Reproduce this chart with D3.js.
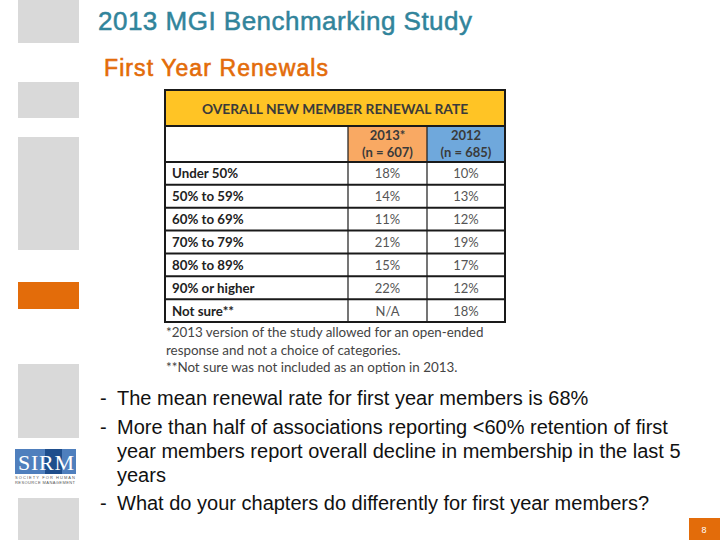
<!DOCTYPE html>
<html>
<head>
<meta charset="utf-8">
<script src="https://cdn.jsdelivr.net/npm/d3@7"></script>
<style>
  body { margin: 0; background: #fff; }
  svg { display: block; }
</style>
</head>
<body>
<div id="chart"></div>
<script>
const w = 720;
const h = 540;

// table data
const categories = ["Under 50%", "50% to 59%", "60% to 69%", "70% to 79%", "80% to 89%", "90% or higher", "Not sure**"];
const values2013 = ["18%", "14%", "11%", "21%", "15%", "22%", "N/A"];
const values2012 = ["10%", "13%", "12%", "19%", "17%", "12%", "18%"];
const columns = ["2013*", "2012"];
const columnN = ["(n = 607)", "(n = 685)"];

const footnotes = [
  "*2013 version of the study allowed for an open-ended",
  "response and not a choice of categories.",
  "**Not sure was not included as an option in 2013."
];
const bullets = [
  ["The mean renewal rate for first year members is 68%"],
  ["More than half of associations reporting <60% retention of first", "year members report overall decline in membership  in the last 5", "years"],
  ["What do your chapters do differently for first year members?"]
];

const svg = d3.select("#chart")
  .append('svg')
  .attr('width', w)
  .attr('height', h);

// left side decoration blocks
const blocks = [
  {y: 0, h: 43, c: '#d9d9d9'},
  {y: 82, h: 36, c: '#d9d9d9'},
  {y: 137, h: 113, c: '#d9d9d9'},
  {y: 282, h: 27, c: '#e36c0a'},
  {y: 364, h: 74, c: '#d9d9d9'},
  {y: 498, h: 42, c: '#d9d9d9'}
];
svg.selectAll('rect.block')
  .data(blocks)
  .enter()
  .append('rect')
  .attr('class', 'block')
  .attr('x', 18)
  .attr('y', d => d.y)
  .attr('width', 61)
  .attr('height', d => d.h)
  .attr('fill', d => d.c);

// SIRM logo
const logo = svg.append('g').attr('transform', 'translate(15,449)');
logo.append('rect').attr('width', 61).attr('height', 25).attr('fill', '#4f7fbd');
logo.append('rect').attr('x', 30).attr('width', 17).attr('height', 25).attr('fill', '#1f4e8c');
logo.append('text')
  .attr('x', 31).attr('y', 21)
  .attr('text-anchor', 'middle')
  .attr('font-family', 'Liberation Serif, serif')
  .attr('font-size', 22)
  .attr('fill', '#fff')
  .attr('textLength', 56)
  .text('SIRM');
logo.append('text').attr('x', 0).attr('y', 30).attr('font-size', 4).attr('fill', '#555')
  .attr('font-family', 'Liberation Sans, sans-serif').attr('textLength', 60).text('SOCIETY FOR HUMAN');
logo.append('text').attr('x', 0).attr('y', 35).attr('font-size', 4).attr('fill', '#555')
  .attr('font-family', 'Liberation Sans, sans-serif').attr('textLength', 60).text('RESOURCE MANAGEMENT');

// titles
svg.append('text')
  .attr('x', 98).attr('y', 30)
  .attr('font-family', 'Liberation Sans, Arial, sans-serif')
  .attr('font-size', 26)
  .attr('fill', '#31849b')
  .attr('stroke', '#31849b').attr('stroke-width', 0.5)
  .attr('textLength', 374)
  .text('2013 MGI Benchmarking Study');
svg.append('text')
  .attr('x', 104).attr('y', 76)
  .attr('font-family', 'Liberation Sans, Arial, sans-serif')
  .attr('font-size', 23)
  .attr('fill', '#e36c0a')
  .attr('stroke', '#e36c0a').attr('stroke-width', 0.6)
  .attr('textLength', 224)
  .text('First Year Renewals');

// table
const tX0 = 165, tX1 = 505;
const colX = d3.scaleOrdinal().domain(['label', '2013*', '2012']).range([165, 348, 427]);
const colW = d3.scaleOrdinal().domain(['label', '2013*', '2012']).range([183, 79, 78]);
const yRow = d3.scaleBand().domain(categories).range([162, 322]);
const headerY = 126, titleY = 90;
const font = 'Lato, "Open Sans", sans-serif';

const table = svg.append('g');

table.append('rect')
  .attr('x', tX0).attr('y', titleY)
  .attr('width', tX1 - tX0).attr('height', headerY - titleY)
  .attr('fill', '#ffc425');
table.append('text')
  .attr('x', (tX0 + tX1) / 2).attr('y', titleY + 24)
  .attr('text-anchor', 'middle')
  .attr('font-family', font).attr('font-weight', 'bold')
  .attr('font-size', 13.8).attr('fill', '#3a3a3a')
  .text('OVERALL NEW MEMBER RENEWAL RATE');

const headColors = ['#f9a963', '#6fa8dc'];
table.selectAll('rect.head')
  .data(columns)
  .enter()
  .append('rect')
  .attr('class', 'head')
  .attr('x', d => colX(d)).attr('y', headerY)
  .attr('width', d => colW(d)).attr('height', 162 - headerY)
  .attr('fill', (d, i) => headColors[i]);
table.selectAll('text.head1')
  .data(columns)
  .enter()
  .append('text')
  .attr('x', d => colX(d) + colW(d) / 2).attr('y', headerY + 14)
  .attr('text-anchor', 'middle')
  .attr('font-family', font).attr('font-weight', 'bold')
  .attr('font-size', 13).attr('fill', '#3a3a3a')
  .text(d => d);
table.selectAll('text.head2')
  .data(columnN)
  .enter()
  .append('text')
  .attr('x', (d, i) => colX(columns[i]) + colW(columns[i]) / 2).attr('y', headerY + 31)
  .attr('text-anchor', 'middle')
  .attr('font-family', font).attr('font-weight', 'bold')
  .attr('font-size', 13).attr('fill', '#3a3a3a')
  .text(d => d);

const rows = table.selectAll('g.row')
  .data(categories)
  .enter()
  .append('g')
  .attr('class', 'row')
  .attr('transform', d => `translate(0,${yRow(d)})`);
rows.append('text')
  .attr('x', tX0 + 7).attr('y', yRow.bandwidth() / 2 + 5)
  .attr('font-family', font).attr('font-weight', 'bold')
  .attr('font-size', 13.3).attr('fill', '#222')
  .text(d => d);
rows.append('text')
  .attr('x', colX('2013*') + colW('2013*') / 2).attr('y', yRow.bandwidth() / 2 + 5)
  .attr('text-anchor', 'middle')
  .attr('font-family', font).attr('font-size', 13).attr('fill', '#555')
  .text((d, i) => values2013[i]);
rows.append('text')
  .attr('x', colX('2012') + colW('2012') / 2).attr('y', yRow.bandwidth() / 2 + 5)
  .attr('text-anchor', 'middle')
  .attr('font-family', font).attr('font-size', 13).attr('fill', '#555')
  .text((d, i) => values2012[i]);

// grid lines
const lineC = '#1a1a1a';
const hLines = [headerY, 162].concat(categories.slice(1).map(d => yRow(d)));
table.selectAll('line.h')
  .data(hLines)
  .enter()
  .append('line')
  .attr('x1', tX0).attr('x2', tX1)
  .attr('y1', d => d).attr('y2', d => d)
  .attr('stroke', lineC).attr('stroke-width', 2);
table.selectAll('line.v')
  .data(columns)
  .enter()
  .append('line')
  .attr('x1', d => colX(d)).attr('x2', d => colX(d))
  .attr('y1', headerY).attr('y2', 322)
  .attr('stroke', lineC).attr('stroke-width', 1.2);
table.append('rect')
  .attr('x', tX0).attr('y', titleY)
  .attr('width', tX1 - tX0).attr('height', 322 - titleY)
  .attr('fill', 'none')
  .attr('stroke', lineC).attr('stroke-width', 2);

// footnotes
svg.selectAll('text.foot')
  .data(footnotes)
  .enter()
  .append('text')
  .attr('x', 166).attr('y', (d, i) => 337 + i * 17.5)
  .attr('font-family', font).attr('font-size', 13.4).attr('fill', '#444')
  .text(d => d);

// bullet points
const bulletTop = [405, 434, 510];
bullets.forEach((lines, bi) => {
  svg.append('text')
    .attr('x', 100).attr('y', bulletTop[bi])
    .attr('font-family', 'Liberation Sans, Arial, sans-serif')
    .attr('font-size', 20).attr('fill', '#111')
    .text('-');
  lines.forEach((t, li) => {
    svg.append('text')
      .attr('x', 117).attr('y', bulletTop[bi] + li * 24)
      .attr('font-family', 'Liberation Sans, Arial, sans-serif')
      .attr('font-size', 20).attr('fill', '#111')
      .text(t);
  });
});

// page number
svg.append('rect')
  .attr('x', 689).attr('y', 518)
  .attr('width', 31).attr('height', 22)
  .attr('fill', '#e36c0a');
svg.append('text')
  .attr('x', 704).attr('y', 533)
  .attr('text-anchor', 'middle')
  .attr('font-family', 'Liberation Sans, Arial, sans-serif')
  .attr('font-size', 9).attr('fill', '#fff')
  .text('8');
</script>
</body>
</html>
